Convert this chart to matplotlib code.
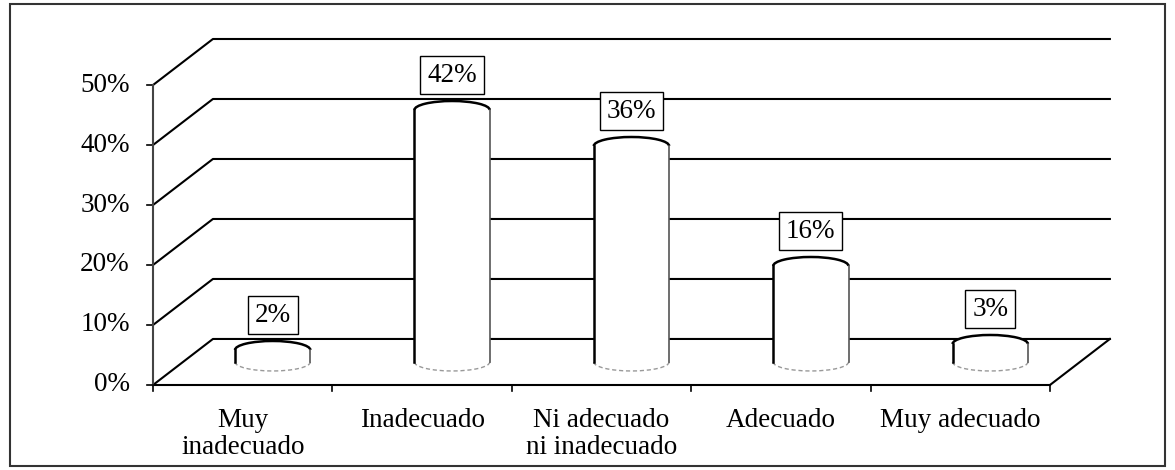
import matplotlib
matplotlib.use("Agg")
import matplotlib.pyplot as plt
from matplotlib.patches import Rectangle, Arc, Ellipse

plt.rcParams['font.family'] = ['Liberation Serif', 'DejaVu Serif']

# data
categories = ['Muy\ninadecuado', 'Inadecuado', 'Ni adecuado\nni inadecuado', 'Adecuado', 'Muy adecuado']
values = [2, 42, 36, 16, 3]
labels = ['2%', '42%', '36%', '16%', '3%']
yticks = [0, 10, 20, 30, 40, 50]

# fake 3d: depth offset in data units
DX = 0.334
DY = 7.67
W = 0.42    # cylinder width
EH = 3.0    # ellipse height

fig = plt.figure(figsize=(11.75, 4.7), dpi=100)
ax = fig.add_axes([0, 0, 1, 1])
ax.set_xlim(-1.353, 5.197)
ax.set_ylim(-14.17, 64.17)
ax.axis('off')

# outer frame
fig.patches.append(Rectangle((10/1175, 4/470), 1155/1175, 462/470, transform=fig.transFigure,
                             fill=False, ec='#333333', lw=1.5))

n = len(categories)
right = n - 0.5

# walls / gridlines
for v in yticks:
    ax.plot([-0.5, -0.5 + DX, right + DX], [v, v + DY, v + DY], color='black', lw=1.5, zorder=1)
    ax.plot([-0.5 - 0.035, -0.5], [v, v], color='black', lw=1.2, zorder=1)
    ax.text(-0.63, v, f'{v}%', ha='right', va='center', fontsize=19.5)

# floor right edge and axes
ax.plot([right, right + DX], [0, DY], color='black', lw=1.5, zorder=1)
ax.plot([-0.5, right], [0, 0], color='black', lw=1.5, zorder=1)
ax.plot([-0.5, -0.5], [0, yticks[-1]], color='#444444', lw=1.5, zorder=1)
for i in range(n + 1):
    ax.plot([i - 0.5, i - 0.5], [0, -1.0], color='black', lw=1.2, zorder=1)

# cylinders
for i, v in enumerate(values):
    cx = i + DX / 2
    base = DY / 2
    top = base + v
    ax.add_patch(Rectangle((cx - W / 2, base), W, v, fc='white', ec='none', zorder=3))
    ax.add_patch(Ellipse((cx, base), W, EH, fc='white', ec='none', zorder=3))
    ax.add_patch(Arc((cx, base), W, EH, theta1=180, theta2=360, color='#999999', lw=1.0,
                     ls=(0, (3, 2)), zorder=3.5))
    ax.add_patch(Ellipse((cx, top), W, EH, fc='white', ec='none', zorder=3))
    ax.add_patch(Arc((cx, top), W, EH, theta1=0, theta2=180, color='black', lw=1.8, zorder=3.5))
    ax.plot([cx - W / 2, cx - W / 2], [base, top], color='black', lw=1.8, zorder=3.5)
    ax.plot([cx + W / 2, cx + W / 2], [base, top], color='#555555', lw=1.2, zorder=3.5)
    ax.text(cx, top + 5.8, labels[i], ha='center', va='center', fontsize=19.5, zorder=4,
            bbox=dict(boxstyle='square,pad=0.25', fc='white', ec='black', lw=1.0))

# category labels
for i, c in enumerate(categories):
    ax.text(i, -3.9, c, ha='center', va='top', fontsize=19.5, linespacing=1.1)

fig.savefig('out.png', dpi=100)
